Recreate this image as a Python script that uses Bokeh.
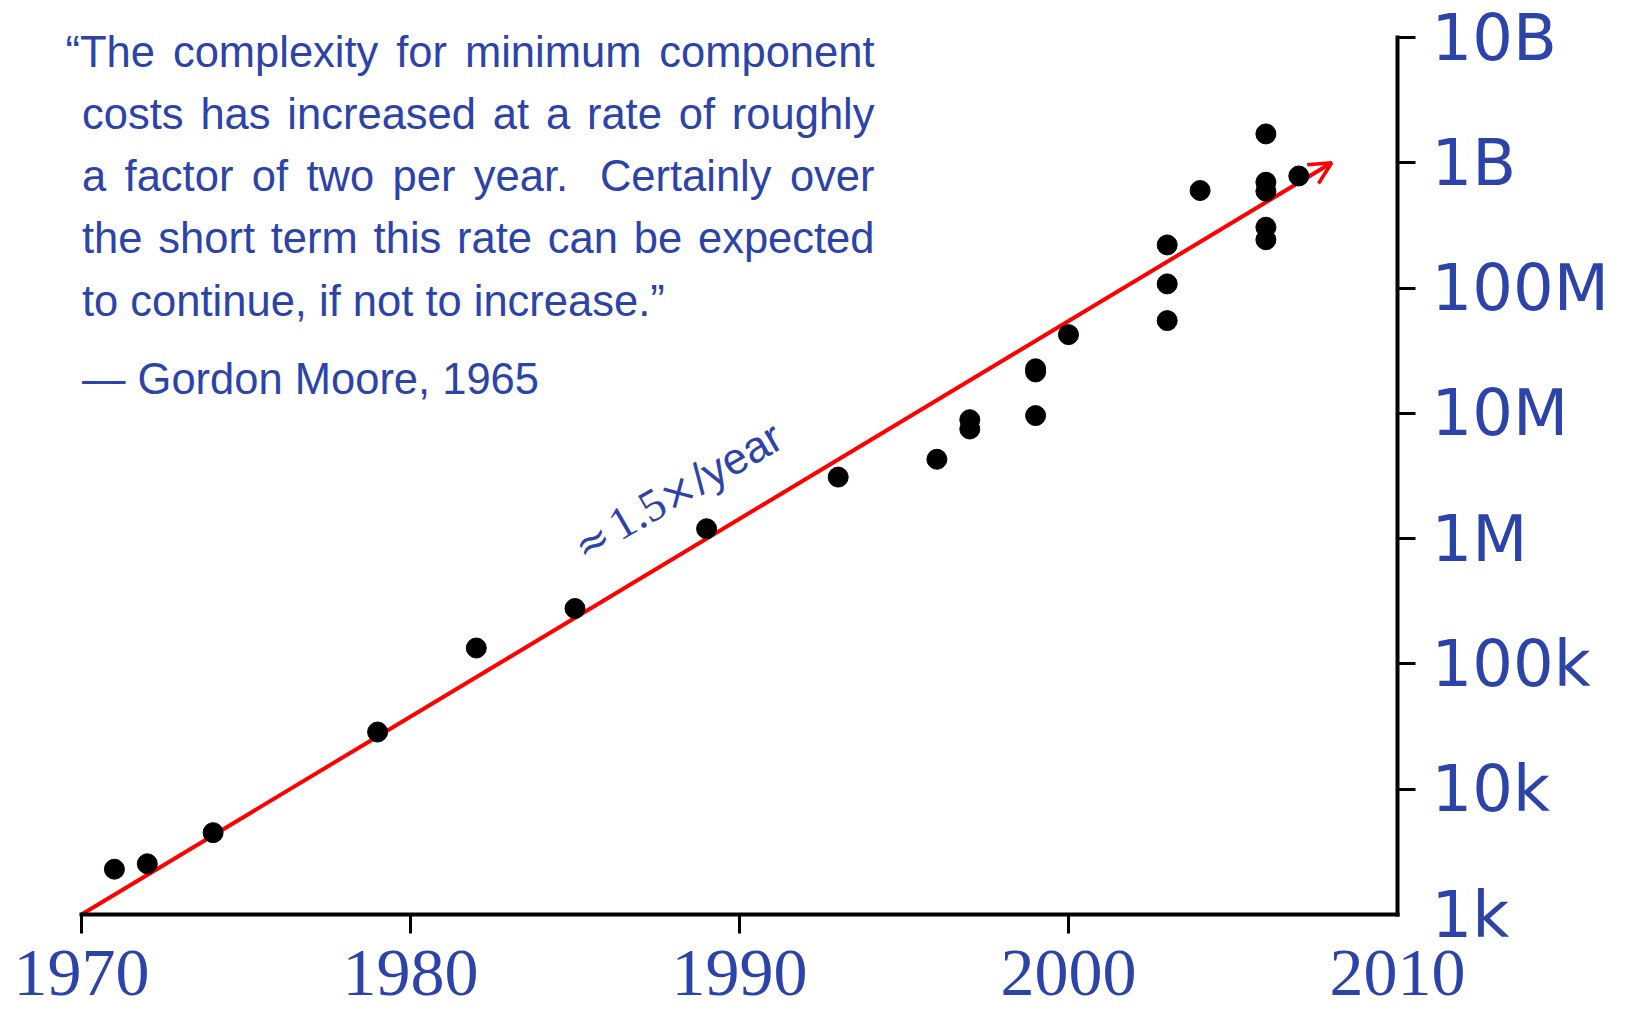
import math
from bokeh.plotting import figure
from bokeh.models import (Range1d, FixedTicker, Arrow, OpenHead, Label,
                          LinearAxis, LogAxis)
from bokeh.embed import file_html
from bokeh.resources import INLINE

# ---------------- data ----------------
years = [1971, 1972, 1974, 1979, 1982, 1985, 1989, 1993, 1996, 1997, 1997,
         1999, 1999, 1999, 2000, 2003, 2003, 2003, 2004,
         2006, 2006, 2006, 2006, 2006, 2007]
transistors = [2300, 2540, 4500, 28600, 134000, 277000, 1.2e6, 3.1e6, 4.3e6, 8.9e6, 7.5e6,
               9.6e6, 21.4e6, 22.7e6, 42.5e6, 221e6, 108e6, 55e6, 601e6,
               1.70e9, 700e6, 593e6, 306e6, 243e6, 785e6]

trend_years = [1970, 2008]
trend_counts = [1e3, 1e9]

x_tick_years = [1970, 1980, 1990, 2000]
x_tick_labels = ["1970", "1980", "1990", "2000"]
x_corner_year = 2010
x_corner_label = "2010"

y_tick_values = [1e4, 1e5, 1e6, 1e7, 1e8, 1e9, 1e10]
y_tick_labels = ["10k", "100k", "1M", "10M", "100M", "1B", "10B"]
y_corner_value = 1e3
y_corner_label = "1k"

quote_lines = [
    "\u201cThe complexity for minimum component",
    "costs has increased at a rate of roughly",
    "a factor of two per year.  Certainly over",
    "the short term this rate can be expected",
    "to continue, if not to increase.\u201d",
]
attribution = "\u2014 Gordon Moore, 1965"
rate_parts = ["\u2248", "1.5", "\u00d7", "/year"]

# ---------------- geometry ----------------
BLUE = "#2c43a9"
W, H = 1627, 1015
AX_LEFT, AX_RIGHT = 81.0, 1397.0      # pixel of 1970 / 2010
AX_TOP, AX_BOTTOM = 37.0, 914.0       # pixel of 1e10 / 1e3
PX_YEAR = (AX_RIGHT - AX_LEFT) / 40.0
PX_DEC = (AX_BOTTOM - AX_TOP) / 7.0

x_start = 1970 - AX_LEFT / PX_YEAR
x_end = 1970 + (W - AX_LEFT) / PX_YEAR
y_start = 10 ** (3 - (H - AX_BOTTOM) / PX_DEC)
y_end = 10 ** (3 + AX_BOTTOM / PX_DEC)

def x_at(px):
    return 1970 + (px - AX_LEFT) / PX_YEAR

def y_at(py):
    return 10 ** (3 + (AX_BOTTOM - py) / PX_DEC)

p = figure(width=W, height=H, x_range=Range1d(x_start, x_end), y_range=Range1d(y_start, y_end),
           y_axis_type="log", y_axis_location="right",
           output_backend="svg", toolbar_location=None,
           min_border_left=0, min_border_top=0, min_border_right=0, min_border_bottom=0)
p.outline_line_color = None
p.grid.visible = False
p.background_fill_color = "white"
p.border_fill_color = "white"

X_FONT = "Liberation Serif"
X_SIZE = "68px"
X_TICK = 19
X_STANDOFF = 17
Y_FONT = "DejaVu Sans"
Y_SIZE = "64px"
Y_TICK = 18
Y_STANDOFF = 16

def style_x(ax):
    ax.fixed_location = 1e3
    ax.bounds = (1970, 2010)
    ax.major_label_text_font = X_FONT
    ax.major_label_text_font_size = X_SIZE
    ax.major_label_text_color = BLUE
    ax.major_label_standoff = X_STANDOFF
    ax.axis_line_width = 4
    ax.axis_line_cap = "square"
    ax.major_tick_line_width = 3
    ax.major_tick_out = X_TICK
    ax.major_tick_in = 0
    ax.minor_tick_out = 0
    ax.minor_tick_in = 0

def style_y(ax):
    ax.fixed_location = 2010
    ax.bounds = (1e3, 1e10)
    ax.major_label_text_font = Y_FONT
    ax.major_label_text_font_size = Y_SIZE
    ax.major_label_text_color = BLUE
    ax.major_label_standoff = Y_STANDOFF
    ax.axis_line_width = 4
    ax.axis_line_cap = "square"
    ax.major_tick_line_width = 3
    ax.major_tick_out = Y_TICK
    ax.major_tick_in = 0
    ax.minor_tick_out = 0
    ax.minor_tick_in = 0

xa = p.xaxis[0]
style_x(xa)
xa.ticker = FixedTicker(ticks=x_tick_years, minor_ticks=[])
xa.major_label_overrides = {t: l for t, l in zip(x_tick_years, x_tick_labels)}

xa2 = LinearAxis()
style_x(xa2)
xa2.ticker = FixedTicker(ticks=[x_corner_year], minor_ticks=[])
xa2.major_label_overrides = {x_corner_year: x_corner_label}
xa2.axis_line_color = None
xa2.major_tick_line_color = None
p.add_layout(xa2, "below")

ya = p.yaxis[0]
style_y(ya)
ya.ticker = FixedTicker(ticks=y_tick_values, minor_ticks=[])
ya.major_label_overrides = {v: l for v, l in zip(y_tick_values, y_tick_labels)}

ya2 = LogAxis()
style_y(ya2)
ya2.ticker = FixedTicker(ticks=[y_corner_value], minor_ticks=[])
ya2.major_label_overrides = {y_corner_value: y_corner_label}
ya2.axis_line_color = None
ya2.major_tick_line_color = None
p.add_layout(ya2, "right")

# trend arrow (under the points)
arrow = Arrow(x_start=trend_years[0], y_start=trend_counts[0],
              x_end=trend_years[1], y_end=trend_counts[1],
              line_color="red", line_width=4,
              end=OpenHead(size=22, line_color="red", line_width=3.5), level="underlay")
p.add_layout(arrow)

# points
p.scatter(years, transistors, size=20, color="black", line_color="black")

# rate label, rotated along the trend: pieces placed along one baseline
ANG = 30.0
BASE_X, BASE_Y = 630.0, 536.0          # a point on the label's baseline
rate_fonts = ["DejaVu Serif", "Liberation Serif", "DejaVu Serif", "Liberation Sans"]
rate_sizes = [42, 46, 42, 44]
rate_s = [-53.0, -11.5, 45.5, 82.0]    # distance along the baseline

a = math.radians(ANG)
for txt, fnt, fs, s in zip(rate_parts, rate_fonts, rate_sizes, rate_s):
    bx = BASE_X + s * math.cos(a)
    by = BASE_Y - s * math.sin(a)
    d = 0.36 * fs
    px, py = bx - d * math.sin(a), by - d * math.cos(a)
    p.add_layout(Label(x=x_at(px), y=y_at(py), text=txt, angle=ANG, angle_units="deg",
                       text_font=fnt, text_font_size=f"{fs}px", text_color=BLUE,
                       text_align="left", text_baseline="middle"))

# quote, justified word by word
ARIAL = {' ': 278, ',': 278, '.': 278, 'a': 556, 'b': 556, 'c': 500, 'd': 556, 'e': 556,
         'f': 278, 'g': 556, 'h': 556, 'i': 222, 'l': 222, 'm': 833, 'n': 556, 'o': 556,
         'p': 556, 'r': 333, 's': 500, 't': 278, 'u': 556, 'v': 500, 'w': 722, 'x': 500,
         'y': 500, 'C': 722, 'T': 611, 'G': 778, 'M': 833, '\u201c': 333, '\u201d': 333}
FS = 43.5
FONT = "Liberation Sans"

def text_w(s):
    return sum(ARIAL.get(ch, 556) for ch in s) * FS / 1000.0

baselines_px = [66.7, 129.0, 191.3, 253.6, 316.5]
attribution_px = 394.0
RIGHT = 874.0

def add_word(txt, px, baseline, align="left"):
    p.add_layout(Label(x=x_at(px), y=y_at(baseline - 0.36 * FS), text=txt,
                       text_font=FONT, text_font_size=f"{FS}px", text_color=BLUE,
                       text_align=align, text_baseline="middle"))

for i, line in enumerate(quote_lines):
    py = baselines_px[i]
    left = 65.0 if i == 0 else 81.5
    if i < 4:
        words = line.split()
        widths = [text_w(w) for w in words]
        weights = [1.6 if words[k].endswith(".") else 1.0 for k in range(len(words) - 1)]
        unit = ((RIGHT - left) - sum(widths)) / sum(weights)
        x = left
        for k, wd in enumerate(words):
            if k == len(words) - 1:
                add_word(wd, RIGHT, py, "right")
            else:
                add_word(wd, x, py)
                x += widths[k] + unit * weights[k]
    else:
        add_word(line, left, py)

add_word(attribution, 81.5, attribution_px)

open("out.html", "w").write(file_html(p, INLINE))
